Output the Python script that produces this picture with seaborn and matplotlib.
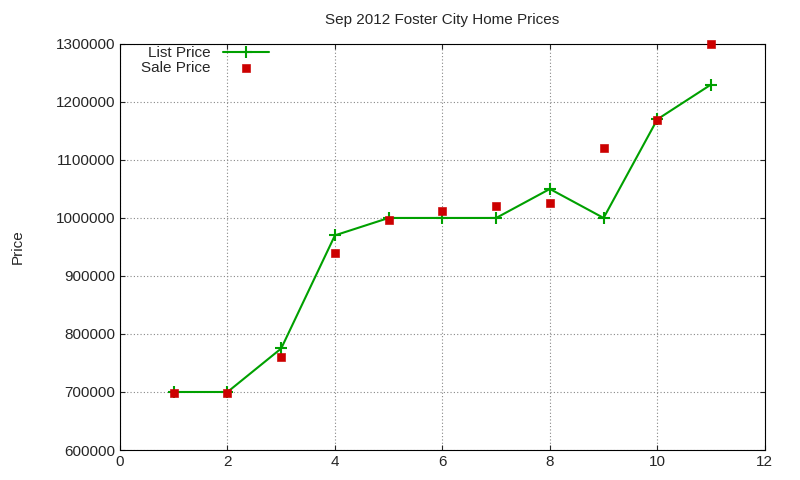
import matplotlib
matplotlib.use("Agg")
import matplotlib.pyplot as plt
import seaborn as sns
import pandas as pd

x = [1, 2, 3, 4, 5, 6, 7, 8, 9, 10, 11]
list_price = [700000, 700000, 775000, 970000, 1000000, 1000000, 1000000, 1050000, 1000000, 1170000, 1230000]
sale_price = [698000, 698000, 760000, 940000, 997000, 1012000, 1020000, 1025000, 1120000, 1168000, 1300000]

df = pd.DataFrame({"x": x, "list": list_price, "sale": sale_price})

sns.set_style("ticks")
plt.rcParams['font.family'] = ['Liberation Sans', 'DejaVu Sans']
fig = plt.figure(figsize=(8, 4.8), dpi=100)
ax = fig.add_axes([0.15, 0.0625, 0.806, 0.846])

sns.lineplot(data=df, x="x", y="list", ax=ax, color="#00a000", marker="+", markersize=8,
             markeredgewidth=1.5, markeredgecolor="#00a000", linewidth=1.5, label="List Price")
sns.scatterplot(data=df, x="x", y="sale", ax=ax, color="#cc0000", marker="s", s=30,
                edgecolor="#cc0000", label="Sale Price", zorder=3, clip_on=False)

ax.set_xlim(0, 12)
ax.set_ylim(600000, 1300000)
ax.set_xticks(range(0, 13, 2))
ax.set_yticks(range(600000, 1300001, 100000))
ax.ticklabel_format(style="plain", axis="y")
ax.grid(True, linestyle=(0, (1, 2)), color="#888888", linewidth=0.8)
ax.tick_params(direction="in", labelsize=11, top=True, right=True)
ax.set_xlabel("")
ax.set_ylabel("Price", fontsize=11, labelpad=22)
ax.set_title("Sep 2012 Foster City Home Prices", fontsize=11, pad=14)
for s in ax.spines.values():
    s.set_linewidth(0.8)
    s.set_color("black")
ax.legend(loc="upper right", frameon=False, markerfirst=False, fontsize=11,
          bbox_to_anchor=(0.24, 1.01), handlelength=3, borderaxespad=0.0, labelspacing=0.1)
fig.savefig("out.png", dpi=100)
